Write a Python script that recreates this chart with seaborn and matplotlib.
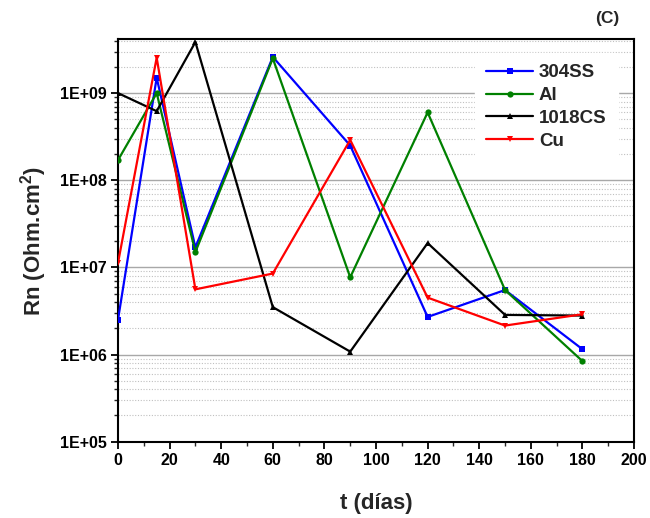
import numpy as np
import pandas as pd
import matplotlib
matplotlib.use("Agg")
import matplotlib.pyplot as plt
from matplotlib.ticker import FixedLocator, FuncFormatter, MultipleLocator
import seaborn as sns

# ---- data ----
t_days = [0, 15, 30, 60, 90, 120, 150, 180]
rn_304ss = [2.5e6, 1.5e9, 1.7e7, 2.6e9, 2.5e8, 2.7e6, 5.5e6, 1.15e6]
rn_al = [1.7e8, 1.0e9, 1.5e7, 2.5e9, 7.7e6, 6.0e8, 5.5e6, 8.4e5]
rn_1018cs = [1.0e9, 6.2e8, 3.85e9, 3.5e6, 1.08e6, 1.9e7, 2.85e6, 2.8e6]
rn_cu = [1.12e7, 2.55e9, 5.6e6, 8.5e6, 2.9e8, 4.5e6, 2.15e6, 2.9e6]
series_names = ["304SS", "Al", "1018CS", "Cu"]
y_tick_values = [1e5, 1e6, 1e7, 1e8, 1e9]
y_tick_labels = ["1E+05", "1E+06", "1E+07", "1E+08", "1E+09"]

df = pd.DataFrame({
    "t": t_days * 4,
    "Rn": rn_304ss + rn_al + rn_1018cs + rn_cu,
    "Material": [n for n in series_names for _ in t_days],
})

sns.set_theme(style="white")
plt.rcParams["font.family"] = ["Liberation Sans", "DejaVu Sans"]
plt.rcParams["font.weight"] = "bold"
plt.rcParams["mathtext.fontset"] = "custom"
plt.rcParams["mathtext.rm"] = "Liberation Sans:bold"
plt.rcParams["mathtext.default"] = "rm"

fig = plt.figure(figsize=(6.5, 5.18), dpi=100)
ax = fig.add_axes([0.1815, 0.1473, 0.794, 0.7768])

palette = {"304SS": "#0000ff", "Al": "#008000", "1018CS": "#000000", "Cu": "#ff0000"}
markers = {"304SS": "s", "Al": "o", "1018CS": "^", "Cu": "v"}

ax.set_yscale("log")
sns.lineplot(data=df, x="t", y="Rn", hue="Material", style="Material",
             hue_order=series_names, style_order=series_names,
             palette=palette, markers=markers, dashes=False,
             markersize=4.5, linewidth=1.6, markeredgewidth=0,
             ax=ax, zorder=3)

ax.set_xlim(0, 200)
ax.set_ylim(1e5, 4.14e9)

ax.xaxis.set_major_locator(MultipleLocator(20))
ax.xaxis.set_minor_locator(MultipleLocator(10))
ax.yaxis.set_major_locator(FixedLocator(y_tick_values))
ax.yaxis.set_major_formatter(FuncFormatter(
    lambda v, p: y_tick_labels[y_tick_values.index(v)] if v in y_tick_values else ""))
minor_vals = [m * 10.0 ** e for e in range(5, 10) for m in range(2, 10)]
ax.yaxis.set_minor_locator(FixedLocator(minor_vals))
ax.yaxis.set_minor_formatter(FuncFormatter(lambda v, p: ""))

ax.tick_params(axis="both", which="major", direction="out", length=5, width=1.3,
               labelsize=11.5, colors="black", pad=3, left=True, bottom=True)
ax.tick_params(axis="both", which="minor", direction="out", length=3, width=1.0,
               left=True, bottom=True)
for lab in ax.get_xticklabels() + ax.get_yticklabels():
    lab.set_fontweight("bold")

ax.grid(False)
ax.yaxis.grid(True, which="major", color="#a8a8a8", linewidth=1.0, linestyle="-", zorder=0)
ax.yaxis.grid(True, which="minor", color="#c0c0c0", linewidth=0.8, linestyle=(0, (1, 1.5)), zorder=0)
ax.set_axisbelow(True)

for s in ax.spines.values():
    s.set_color("black")
    s.set_linewidth(1.5)

ax.set_xlabel("t (días)", fontsize=16, fontweight="bold", labelpad=18)
ax.set_ylabel("Rn (Ohm.cm$^{2}$)", fontsize=16, fontweight="bold", labelpad=8)

leg = ax.legend(loc="upper left", bbox_to_anchor=(0.692, 0.966), frameon=True,
                fontsize=13.5, handlelength=2.5, handletextpad=0.3,
                labelspacing=0.3, borderpad=0.6, borderaxespad=0)
leg.get_frame().set_facecolor("white")
leg.get_frame().set_edgecolor("white")
leg.get_frame().set_alpha(1)
for txt in leg.get_texts():
    txt.set_fontweight("bold")

fig.text(0.935, 0.965, "(C)", fontsize=12.5, fontweight="bold", ha="center", va="center")

fig.savefig("out.png", dpi=100)
